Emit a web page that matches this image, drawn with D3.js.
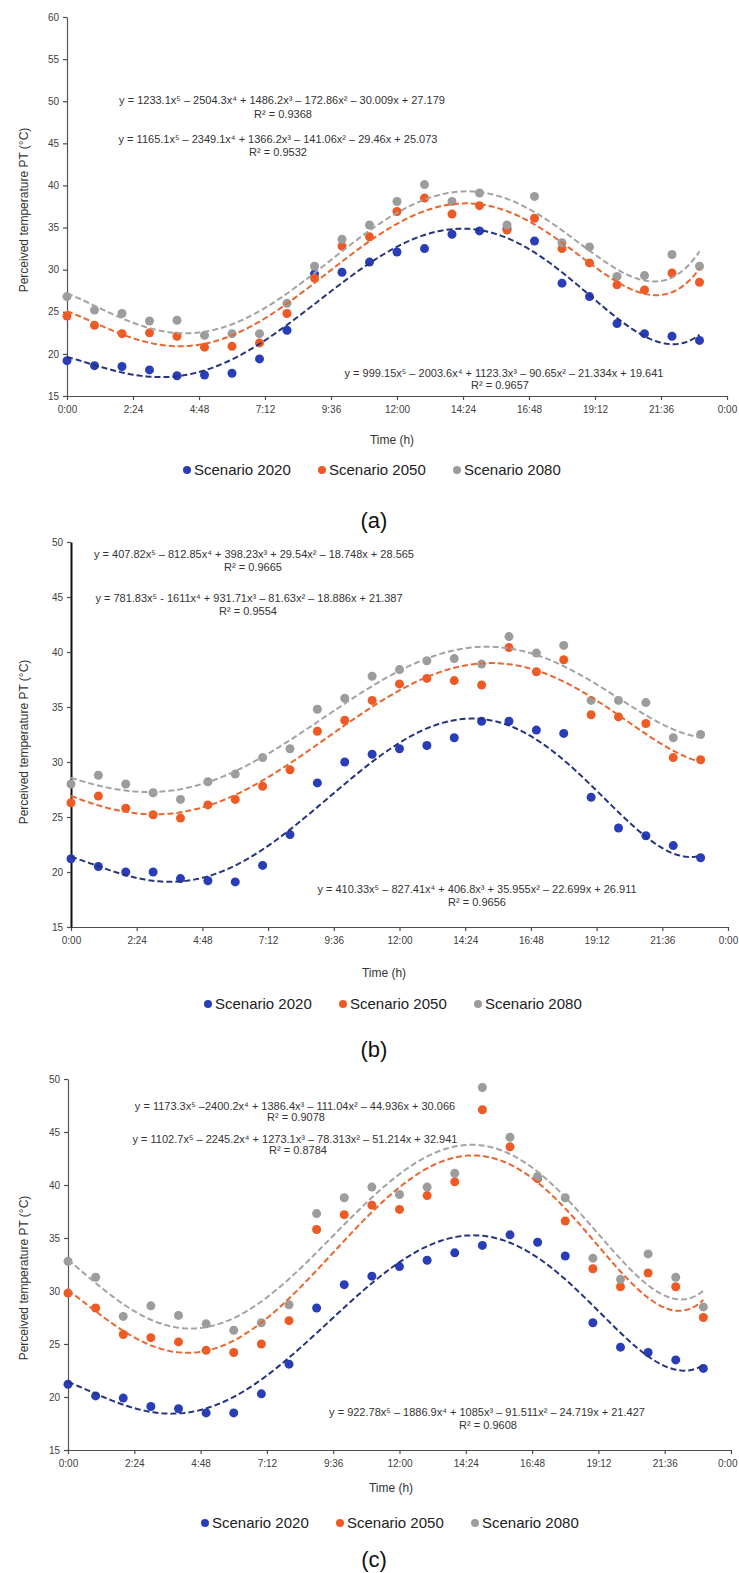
<!DOCTYPE html>
<html>
<head>
<meta charset="utf-8">
<script src="https://cdn.jsdelivr.net/npm/d3@7"></script>
<style>
body { margin: 0; background: #fff; }
svg { font-family: Arial, "Liberation Sans", sans-serif; }
.axis path, .axis line { stroke: #4d4d4d; stroke-width: 1.2; }
.axis text { fill: #404040; font-size: 10px; }
.eq { font-size: 11px; fill: #333; }
.ytitle, .xtitle { font-size: 12px; fill: #333; }
.legend text { font-size: 15px; fill: #222; }
.plabel { font-size: 22px; fill: #111; }
</style>
</head>
<body>
<svg id="chart" width="739" height="1573"></svg>
<script>
// hour of day of each observation
var hours = d3.range(0, 24);
var xTickLabels = ["0:00", "2:24", "4:48", "7:12", "9:36", "12:00", "14:24", "16:48", "19:12", "21:36", "0:00"];
var seriesNames = ["Scenario 2020", "Scenario 2050", "Scenario 2080"];

// (a)
var a2020 = [19.2, 18.6, 18.5, 18.1, 17.4, 17.5, 17.7, 19.4, 22.8, 29.5, 29.7, 30.9, 32.1, 32.5, 34.2, 34.6, 34.9, 33.4, 28.4, 26.8, 23.6, 22.4, 22.1, 21.6];
var a2050 = [24.5, 23.4, 22.4, 22.5, 22.1, 20.8, 20.9, 21.3, 24.8, 29.0, 32.8, 33.9, 36.9, 38.5, 36.6, 37.6, 34.7, 36.1, 32.5, 30.8, 28.2, 27.6, 29.6, 28.5];
var a2080 = [26.8, 25.2, 24.8, 23.9, 24.0, 22.2, 22.4, 22.4, 26.0, 30.4, 33.6, 35.3, 38.1, 40.1, 38.1, 39.1, 35.3, 38.7, 33.2, 32.7, 29.2, 29.3, 31.8, 30.4];
// (b)
var b2020 = [21.2, 20.5, 20.0, 20.0, 19.4, 19.2, 19.1, 20.6, 23.4, 28.1, 30.0, 30.7, 31.2, 31.5, 32.2, 33.7, 33.7, 32.9, 32.6, 26.8, 24.0, 23.3, 22.4, 21.3];
var b2050 = [26.3, 26.9, 25.8, 25.2, 24.9, 26.1, 26.6, 27.8, 29.3, 32.8, 33.8, 35.6, 37.1, 37.6, 37.4, 37.0, 40.4, 38.2, 39.3, 34.3, 34.1, 33.5, 30.4, 30.2];
var b2080 = [28.0, 28.8, 28.0, 27.2, 26.6, 28.2, 28.9, 30.4, 31.2, 34.8, 35.8, 37.8, 38.4, 39.2, 39.4, 38.9, 41.4, 39.9, 40.6, 35.6, 35.6, 35.4, 32.2, 32.5];
// (c)
var c2020 = [21.2, 20.1, 19.9, 19.1, 18.9, 18.5, 18.5, 20.3, 23.1, 28.4, 30.6, 31.4, 32.3, 32.9, 33.6, 34.3, 35.3, 34.6, 33.3, 27.0, 24.7, 24.2, 23.5, 22.7];
var c2050 = [29.8, 28.4, 25.9, 25.6, 25.2, 24.4, 24.2, 25.0, 27.2, 35.8, 37.2, 38.1, 37.7, 39.0, 40.3, 47.1, 43.6, 40.6, 36.6, 32.1, 30.4, 31.7, 30.4, 27.5];
var c2080 = [32.8, 31.3, 27.6, 28.6, 27.7, 26.9, 26.3, 27.0, 28.7, 37.3, 38.8, 39.8, 39.1, 39.8, 41.1, 49.2, 44.5, 40.8, 38.8, 33.1, 31.1, 33.5, 31.3, 28.5];

// 5th order trendline coefficients (x = fraction of day), highest power first
var fitA = [[999.15, -2003.6, 1123.3, -90.65, -21.334, 19.641],
            [1165.1, -2349.1, 1366.2, -141.06, -29.46, 25.073],
            [1233.1, -2504.3, 1486.2, -172.86, -30.009, 27.179]];
var fitB = [[781.83, -1611, 931.71, -81.63, -18.886, 21.387],
            [410.33, -827.41, 406.8, 35.955, -22.699, 26.911],
            [407.82, -812.85, 398.23, 29.54, -18.748, 28.565]];
var fitC = [[922.78, -1886.9, 1085, -91.511, -24.719, 21.427],
            [1173.3, -2400.2, 1386.4, -111.04, -44.936, 30.066],
            [1102.7, -2245.2, 1273.1, -78.313, -51.214, 32.941]];

var eqA = ["y = 1233.1x⁵ – 2504.3x⁴ + 1486.2x³ – 172.86x² – 30.009x + 27.179", "R² = 0.9368",
           "y = 1165.1x⁵ – 2349.1x⁴ + 1366.2x³ – 141.06x² – 29.46x + 25.073", "R² = 0.9532",
           "y = 999.15x⁵ – 2003.6x⁴ + 1123.3x³ – 90.65x² – 21.334x + 19.641", "R² = 0.9657"];
var eqB = ["y = 407.82x⁵ – 812.85x⁴ + 398.23x³ + 29.54x² – 18.748x + 28.565", "R² = 0.9665",
           "y = 781.83x⁵ - 1611x⁴ + 931.71x³ – 81.63x² – 18.886x + 21.387", "R² = 0.9554",
           "y = 410.33x⁵ – 827.41x⁴ + 406.8x³ + 35.955x² – 22.699x + 26.911", "R² = 0.9656"];
var eqC = ["y = 1173.3x⁵ –2400.2x⁴ + 1386.4x³ – 111.04x² – 44.936x + 30.066", "R² = 0.9078",
           "y = 1102.7x⁵ – 2245.2x⁴ + 1273.1x³ – 78.313x² – 51.214x + 32.941", "R² = 0.8784",
           "y = 922.78x⁵ – 1886.9x⁴ + 1085x³ – 91.511x² – 24.719x + 21.427", "R² = 0.9608"];

var dotColors = ["#2a3db8", "#ee5a24", "#9c9c9c"];
var lineColors = ["#26337f", "#e9662f", "#a3a3a3"];

// layout of each panel (pixels)
var panels = [
  { label: "(a)", series: [a2020, a2050, a2080], fits: fitA, eqs: eqA, yMax: 60,
    left: 67, right: 727, top: 17, bottom: 396, yAxisColor: "#555", yAxisWidth: 1.2,
    eqPos: [[282, 104], [283, 118], [278, 143], [278, 156], [504, 377], [500, 389]],
    yTitleY: 210, xTitle: [392, 444], legendY: 470, legendX: 187, labelY: 528 },
  { label: "(b)", series: [b2020, b2050, b2080], fits: fitB, eqs: eqB, yMax: 50,
    left: 71, right: 728, top: 542, bottom: 927, yAxisColor: "#111", yAxisWidth: 2,
    eqPos: [[254, 558], [253, 571], [249, 602], [248, 615], [477, 893], [477, 906]],
    yTitleY: 742, xTitle: [384, 977], legendY: 1004, legendX: 208, labelY: 1057 },
  { label: "(c)", series: [c2020, c2050, c2080], fits: fitC, eqs: eqC, yMax: 50,
    left: 68, right: 731, top: 1079, bottom: 1450, yAxisColor: "#555", yAxisWidth: 1.2,
    eqPos: [[295, 1110], [296, 1121], [295, 1143], [298, 1154], [487, 1416], [488, 1429]],
    yTitleY: 1278, xTitle: [391, 1492], legendY: 1523, legendX: 205, labelY: 1567 }
];

var svg = d3.select("#chart");

function poly(c, t) {
  return c.reduce(function(acc, k) { return acc * t + k; }, 0);
}

panels.forEach(function(p) {
  var x = d3.scaleLinear().domain([0, 1]).range([p.left, p.right]);
  var y = d3.scaleLinear().domain([15, p.yMax]).range([p.bottom, p.top]);
  var g = svg.append("g");

  var xAxis = g.append("g")
    .attr("class", "axis")
    .attr("transform", "translate(0," + p.bottom + ")")
    .call(d3.axisBottom(x).tickValues(d3.range(0, 11).map(function(i) { return i / 10; }))
      .tickSize(4).tickSizeOuter(0).tickPadding(6)
      .tickFormat(function(d, i) { return xTickLabels[i]; }));
  // keep the last label inside the page
  if (p.right + 11 > 739) {
    xAxis.selectAll(".tick").filter(function(d) { return d === 1; }).select("text")
      .attr("text-anchor", "end")
      .attr("dx", 739 - 2 - p.right);
  }

  var yAxis = g.append("g")
    .attr("class", "axis")
    .attr("transform", "translate(" + p.left + ",0)")
    .call(d3.axisLeft(y).tickValues(d3.range(15, p.yMax + 1, 5))
      .tickSize(4).tickSizeOuter(0).tickPadding(4));
  yAxis.select(".domain").style("stroke", p.yAxisColor).style("stroke-width", p.yAxisWidth);

  // scatter points
  p.series.forEach(function(vals, si) {
    g.selectAll(null)
      .data(vals)
      .enter()
      .append("circle")
      .attr("cx", function(d, i) { return x(hours[i] / 24); })
      .attr("cy", function(d) { return y(d); })
      .attr("r", 4.5)
      .attr("fill", dotColors[si]);
  });

  // polynomial trendlines over the observed range
  var line = d3.line()
    .x(function(d) { return x(d[0]); })
    .y(function(d) { return y(d[1]); });
  p.fits.forEach(function(c, si) {
    var pts = d3.range(0, 23 / 24 + 0.0001, 1 / 240).map(function(t) { return [t, poly(c, t)]; });
    g.append("path")
      .attr("d", line(pts))
      .attr("fill", "none")
      .attr("stroke", lineColors[si])
      .attr("stroke-width", 2)
      .attr("stroke-dasharray", "6,3");
  });

  // equations
  p.eqs.forEach(function(t, i) {
    g.append("text")
      .attr("class", "eq")
      .attr("x", p.eqPos[i][0])
      .attr("y", p.eqPos[i][1])
      .attr("text-anchor", "middle")
      .text(t);
  });

  g.append("text")
    .attr("class", "ytitle")
    .attr("transform", "translate(28," + p.yTitleY + ") rotate(-90)")
    .attr("text-anchor", "middle")
    .text("Perceived temperature PT (°C)");

  g.append("text")
    .attr("class", "xtitle")
    .attr("x", p.xTitle[0])
    .attr("y", p.xTitle[1])
    .attr("text-anchor", "middle")
    .text("Time (h)");

  var lg = g.append("g").attr("class", "legend");
  seriesNames.forEach(function(name, si) {
    var lx = p.legendX + si * 135;
    lg.append("circle").attr("cx", lx).attr("cy", p.legendY).attr("r", 4).attr("fill", dotColors[si]);
    lg.append("text").attr("x", lx + 7).attr("y", p.legendY + 5).text(name);
  });

  g.append("text")
    .attr("class", "plabel")
    .attr("x", 374)
    .attr("y", p.labelY)
    .attr("text-anchor", "middle")
    .text(p.label);
});
</script>
</body>
</html>
